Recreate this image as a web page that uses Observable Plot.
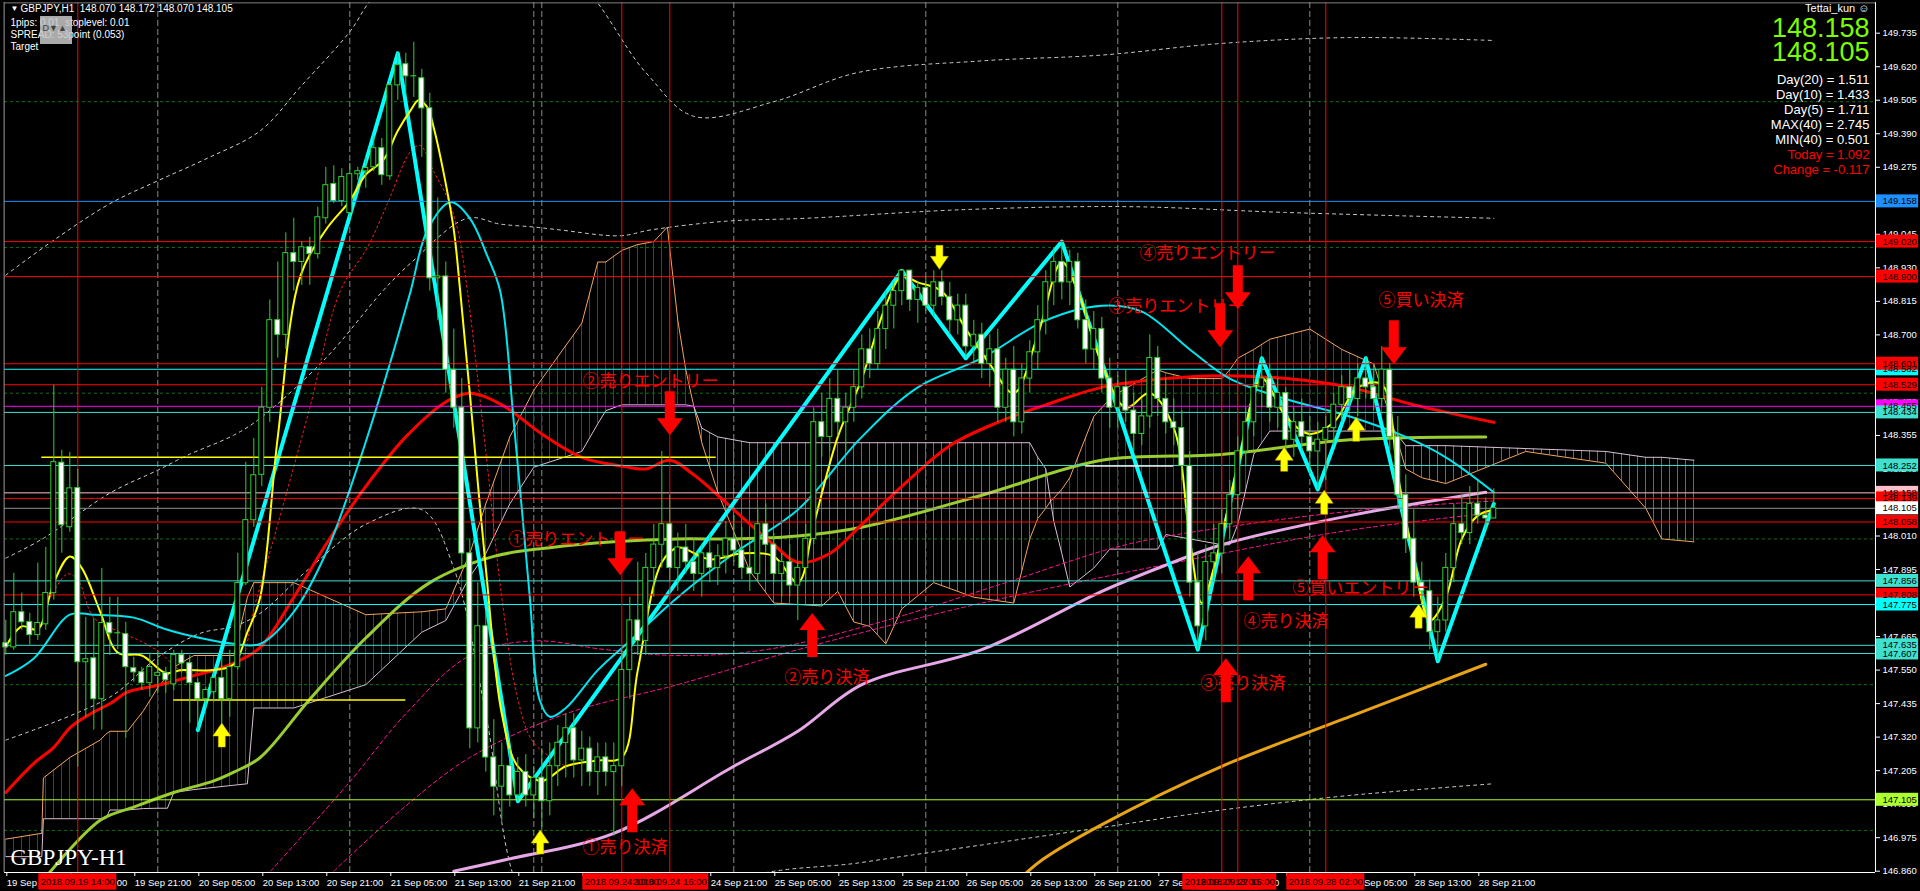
<!DOCTYPE html>
<html><head><meta charset="utf-8">
<script src="https://cdn.jsdelivr.net/npm/d3@7"></script>
<script src="https://cdn.jsdelivr.net/npm/@observablehq/plot@0.6"></script>
<style>
html,body{margin:0;padding:0;background:#000;overflow:hidden}
#chart svg{display:block}
</style></head>
<body><div id="chart"></div>
<script>
// ================= DATA =================
// hourly candles, bar 0 = 19 Sep 05:00
const opens = [147.642,147.628,147.748,147.714,147.670,147.707,147.814,148.261,148.040,148.174,
147.577,147.590,147.450,147.711,147.676,147.673,147.556,147.542,147.505,147.530,
147.540,147.501,147.601,147.573,147.505,147.450,147.474,147.522,147.450,147.560,
147.848,148.064,148.220,148.450,148.750,148.700,148.980,148.950,149.001,148.977,
149.100,149.217,149.159,149.118,149.251,149.261,149.275,149.340,149.244,149.556,
149.628,149.587,149.580,149.477,148.894,148.90,148.58,148.45,147.95,147.35,
147.70,147.25,147.15,147.22,147.12,147.20,147.12,147.18,147.10,147.22,
147.30,147.35,147.24,147.28,147.20,147.25,147.20,147.22,147.55,147.72,
147.65,147.90,147.98,148.05,147.90,147.97,147.92,147.88,147.95,147.90,
147.94,148.00,147.96,147.90,147.88,148.05,147.98,147.88,147.92,147.84,
147.90,148.00,148.40,148.35,148.48,148.40,148.45,148.52,148.65,148.60,
148.72,148.80,148.85,148.92,148.82,148.86,148.80,148.88,148.83,148.75,
148.80,148.66,148.70,148.60,148.65,148.45,148.58,148.40,148.55,148.64,
148.75,148.88,148.95,148.88,148.95,148.75,148.65,148.72,148.55,148.45,
148.52,148.44,148.36,148.42,148.62,148.48,148.40,148.38,148.25,147.85,
147.70,147.92,147.95,148.05,148.15,148.30,148.40,148.52,148.55,148.45,
148.50,148.34,148.40,148.35,148.30,148.34,148.38,148.46,148.52,148.48,
148.55,148.52,148.48,148.58,148.35,148.15,148.00,147.85,147.82,147.68,
147.72,147.90,148.05,148.02,148.12,148.08,148.070];
const highs = [147.721,147.882,147.814,147.745,147.917,147.971,148.527,148.304,148.297,148.239,
147.731,147.728,147.899,147.800,147.800,147.714,147.594,147.560,147.608,147.610,
147.560,147.618,147.618,147.600,147.520,147.490,147.540,147.601,147.618,147.951,
148.263,148.345,148.520,148.820,148.950,149.050,149.100,149.020,149.035,149.138,
149.275,149.280,149.270,149.289,149.275,149.309,149.381,149.374,149.573,149.666,
149.666,149.704,149.611,149.529,149.17,148.95,148.72,148.55,148.00,147.85,
147.75,147.38,147.30,147.28,147.25,147.26,147.22,147.28,147.30,147.36,
147.40,147.40,147.34,147.32,147.30,147.30,147.30,147.62,147.80,147.92,
147.95,148.05,148.30,148.15,148.02,148.05,148.00,147.98,148.02,147.98,
148.06,148.08,148.04,147.98,148.10,148.12,148.02,147.95,147.98,147.92,
148.05,148.45,148.50,148.55,148.58,148.50,148.58,148.70,148.72,148.78,
148.85,148.88,148.92,148.92,148.88,148.90,148.92,148.92,148.88,148.84,
148.84,148.75,148.74,148.70,148.72,148.62,148.66,148.60,148.68,148.80,
148.92,149.00,149.02,148.99,148.98,148.82,148.78,148.76,148.62,148.56,
148.58,148.50,148.48,148.70,148.66,148.55,148.48,148.44,148.30,147.95,
147.98,148.05,148.10,148.20,148.35,148.45,148.58,148.62,148.60,148.55,
148.52,148.45,148.48,148.42,148.40,148.42,148.50,148.56,148.58,148.60,
148.62,148.60,148.66,148.60,148.42,148.22,148.10,147.92,147.86,147.80,
147.95,148.12,148.15,148.18,148.20,148.14,148.172];
const lows = [147.601,147.618,147.687,147.635,147.652,147.687,147.790,147.951,148.023,147.217,
147.388,147.344,147.344,147.600,147.620,147.316,147.508,147.480,147.457,147.470,
147.470,147.480,147.540,147.368,147.344,147.420,147.440,147.354,147.388,147.550,
147.840,148.040,148.180,148.400,148.620,148.650,148.850,148.870,148.870,148.960,
149.080,149.150,149.140,149.100,149.230,149.203,149.260,149.213,149.230,149.505,
149.522,149.515,149.309,148.850,148.75,148.50,148.38,147.90,147.28,147.30,
147.20,147.05,147.03,147.08,147.10,147.08,147.04,147.00,147.05,147.15,
147.18,147.18,147.15,147.15,147.12,147.15,146.98,147.15,147.45,147.60,
147.60,147.80,147.90,147.85,147.82,147.88,147.82,147.80,147.85,147.84,
147.88,147.92,147.86,147.82,147.85,147.95,147.85,147.80,147.80,147.72,
147.85,147.98,148.28,148.30,148.35,148.30,148.40,148.48,148.55,148.58,
148.65,148.72,148.80,148.78,148.74,148.78,148.76,148.80,148.70,148.70,
148.62,148.60,148.55,148.52,148.40,148.40,148.35,148.36,148.50,148.58,
148.70,148.80,148.82,148.80,148.72,148.60,148.58,148.50,148.38,148.38,
148.40,148.30,148.32,148.38,148.42,148.36,148.32,148.20,147.80,147.62,
147.65,147.85,147.88,148.00,148.10,148.25,148.35,148.45,148.40,148.38,
148.30,148.28,148.30,148.22,148.17,148.20,148.32,148.40,148.44,148.42,
148.48,148.44,148.45,148.30,148.10,147.95,147.80,147.78,147.62,147.58,
147.68,147.85,147.98,147.98,148.05,148.03,148.070];
const closes = [147.628,147.748,147.714,147.670,147.711,147.814,148.263,148.047,148.173,147.577,
147.587,147.450,147.711,147.676,147.676,147.560,147.542,147.505,147.560,147.540,
147.515,147.601,147.573,147.505,147.450,147.481,147.522,147.450,147.560,147.848,
148.064,148.218,148.450,148.750,148.700,148.980,148.950,149.000,148.977,149.103,
149.213,149.159,149.241,149.251,149.261,149.272,149.340,149.248,149.556,149.625,
149.587,149.587,149.477,148.894,148.90,148.58,148.45,147.95,147.35,147.70,
147.25,147.15,147.22,147.12,147.20,147.12,147.18,147.10,147.22,147.30,
147.35,147.24,147.28,147.20,147.25,147.20,147.22,147.55,147.72,147.65,
147.90,147.98,148.05,147.90,147.97,147.92,147.88,147.95,147.90,147.94,
148.00,147.96,147.90,147.88,148.05,147.98,147.88,147.92,147.84,147.90,
148.00,148.40,148.35,148.48,148.40,148.45,148.52,148.65,148.60,148.72,
148.80,148.85,148.92,148.82,148.86,148.80,148.88,148.83,148.75,148.80,
148.66,148.70,148.60,148.65,148.45,148.58,148.40,148.55,148.64,148.75,
148.88,148.95,148.88,148.95,148.75,148.65,148.72,148.55,148.45,148.52,
148.44,148.36,148.42,148.62,148.48,148.40,148.38,148.25,147.85,147.70,
147.92,147.95,148.05,148.15,148.30,148.40,148.52,148.55,148.45,148.50,
148.34,148.40,148.35,148.30,148.34,148.38,148.46,148.52,148.48,148.55,
148.52,148.48,148.58,148.35,148.15,148.00,147.85,147.82,147.68,147.72,
147.90,148.05,148.02,148.12,148.08,148.07,148.105];

// time axis (bar index -> label)
const xTickBars   = [0,8,16,24,32,40,48,56,64,72,80,88,96,104,112,120,128,136,144,152,160,168,176,184];
const xTickLabels = ["19 Sep 05:00","19 Sep 13:00","19 Sep 21:00","20 Sep 05:00","20 Sep 13:00","20 Sep 21:00","21 Sep 05:00","21 Sep 13:00","21 Sep 21:00","24 Sep 05:00","24 Sep 13:00","24 Sep 21:00","25 Sep 05:00","25 Sep 13:00","25 Sep 21:00","26 Sep 05:00","26 Sep 13:00","26 Sep 21:00","27 Sep 05:00","27 Sep 13:00","27 Sep 21:00","28 Sep 05:00","28 Sep 13:00","28 Sep 21:00"];
const daySeparatorBars = [19,43,66,67,91,115,139,163];

// price axis
const yTicks = [149.735,149.620,149.505,149.390,149.275,149.160,149.045,148.930,148.815,148.700,148.585,148.470,148.355,148.240,148.125,148.010,147.895,147.780,147.665,147.550,147.435,147.320,147.205,147.090,146.975,146.860];
const gridPrices = [149.5,149.0,148.5,148.0,147.5,147.0];

// horizontal level lines (order = stacking order of their labels)
const levelPrices = [149.158,149.020,148.900,148.582,148.601,148.529,148.455,148.434,148.252,148.158,148.139,148.105,148.058,147.856,147.808,147.775,147.607,147.635,147.105];
const levelColors = ["#1e90ff","#ff0000","#ff0000","#00ffff","#ff0000","#ff0000","#ff00ff","#40e0d0","#40e0d0","#ffc0cb","#ff0000","#909090","#ff0000","#40e0d0","#ff0000","#00ffff","#40e0d0","#40e0d0","#adff2f"];
const levelBoxColors = ["#1e90ff","#ff0000","#ff0000","#00ffff","#ff0000","#ff0000","#ff00ff","#40e0d0","#40e0d0","#ffc0cb","#ff0000","#ffffff","#ff0000","#40e0d0","#ff0000","#00ffff","#40e0d0","#40e0d0","#adff2f"];
// short horizontal segments
const segPrices = [148.280,147.447,148.250];
const segFrom   = [4.5,21,135];
const segTo     = [88.8,50,146];
const segColors = ["#ffff00","#ffff00","#e8e8e8"];

// vertical time lines
const vlineBars   = [9,77,83,152,154,165];
const vlineLabels = ["2018.09.19 14:00","2018.09.24 10:00","2018.09.24 16:00","2018.09.27 13:00","2018.09.27 15:00","2018.09.28 02:00"];

// ichimoku cloud (span A / span B)
const cloudBars = [0,4.5,4.7,8,11.8,12.5,13,15.2,17.2,19,20.2,21,23.5,28.5,30.2,31,36,45,52,55,58,60,63,66,72,74,75,77,79,81,82.7,84,85,86,87,89,93,96,102,104,106,108,110,112,116,121,126,128,129,130,130.6,131,132,133,136,138,139,144,145,148,152,153,154,156,158,163,167,171,173.6,175,177,180,190,200,205,207,211];
const spanA = [146.97,146.99,147.18,147.25,147.31,147.33,147.34,147.34,147.41,147.49,147.53,147.56,147.60,147.60,147.80,147.85,147.85,147.74,147.75,147.76,147.95,148.12,148.35,148.51,148.74,148.95,148.95,148.99,149.01,149.02,149.07,148.75,148.58,148.455,148.33,148.16,147.89,147.78,147.77,147.82,147.715,147.70,147.64,147.76,147.85,147.80,147.78,148.00,148.07,148.105,148.13,148.14,148.17,148.21,148.42,148.48,148.50,148.58,148.57,148.55,148.55,148.58,148.62,148.65,148.685,148.72,148.65,148.60,148.37,148.24,148.21,148.19,148.30,148.26,148.105,148.00,147.99];
const spanB = [146.91,146.91,147.04,147.04,147.04,147.04,147.07,147.07,147.075,147.076,147.076,147.13,147.14,147.155,147.16,147.42,147.42,147.50,147.68,147.72,147.87,147.95,148.12,148.246,148.30,148.395,148.44,148.46,148.46,148.46,148.46,148.46,148.46,148.455,148.38,148.35,148.33,148.33,148.33,148.33,148.33,148.33,148.33,148.33,148.33,148.33,148.33,148.33,148.28,148.24,148.13,148.06,147.95,147.835,147.90,147.965,147.965,147.965,148.015,148.00,147.98,147.98,148.05,148.29,148.37,148.37,148.37,148.37,148.37,148.32,148.32,148.32,148.31,148.30,148.28,148.28,148.27];
const cloudLastBar = 211;

// moving averages & other indicator lines (sampled bar index / value)
const yellowBars = [0,2,4,6,8,9.5,11.8,14,17,20,22,26,28.5,30.2,31.8,34,36.8,40,43,45,47.2,49,50.6,51.6,52.7,53.5,54.7,56,56.8,58,60,62,64,67,70,74,77,79,82,84,88,92,96,99,101,104,107,110,112,114,117,120,123,126,129,132,134,137,140,143,146,148,149.5,151,154,157,160,163,166,169,172,174,176,178,180,182,184,186];
const yellowVals = [147.63,147.70,147.69,147.85,147.94,147.90,147.75,147.61,147.60,147.54,147.55,147.55,147.57,147.68,147.80,148.35,148.90,149.06,149.16,149.25,149.30,149.40,149.47,149.505,149.48,149.41,149.26,149.06,148.85,148.50,147.90,147.40,147.22,147.17,147.22,147.24,147.25,147.55,147.92,147.97,147.93,147.95,147.94,147.85,148.05,148.35,148.55,148.80,148.90,148.88,148.85,148.72,148.60,148.50,148.70,148.95,148.85,148.60,148.45,148.50,148.38,148.00,147.78,147.90,148.25,148.55,148.42,148.36,148.40,148.52,148.53,148.22,147.93,147.72,147.80,148.00,148.08,148.10];
const redMaBars = [0,3.5,6,8.1,10.6,13.1,15.2,19,22.7,26,28.5,31.8,36,40,45,50,55,58,62,67,72,77,80,83,86,91,96,99,103,107,112,118,124,130,137,145,152,160,168,176,186];
const redMaVals = [147.13,147.23,147.285,147.354,147.40,147.436,147.474,147.498,147.525,147.55,147.574,147.628,147.80,147.98,148.18,148.35,148.47,148.50,148.46,148.36,148.28,148.25,148.24,148.27,148.22,148.10,147.98,147.92,147.95,148.05,148.18,148.32,148.40,148.46,148.52,148.55,148.56,148.55,148.52,148.46,148.40];
const cyanBars = [0,3.5,8,11,16,20,24.3,28.5,31.8,36,40,44,48,50.6,52.7,55.6,58,60.2,61.8,63.5,65.5,66.7,68,70,74,78,84,91,99,107,114,122,130,137,142,148,153,160,168,175,180,186];
const cyanVals = [147.53,147.59,147.74,147.74,147.73,147.69,147.66,147.64,147.64,147.75,147.95,148.25,148.60,148.85,149.06,149.155,149.10,148.97,148.85,148.40,147.80,147.45,147.39,147.42,147.55,147.65,147.80,147.95,148.10,148.35,148.52,148.62,148.75,148.80,148.78,148.65,148.55,148.48,148.42,148.35,148.28,148.16];
const zigBars = [24,49,64,112,120,132,149,157,164,170,179,186];
const zigVals = [147.344,149.666,147.10,148.92,148.62,149.02,147.62,148.62,148.17,148.62,147.58,148.12];
const greenMaBars = [4.7,11.8,16,21,26,28.5,31.8,38,45,53,61,68,76,84,91,99,107,122,137,152,168,185];
const greenMaVals = [146.83,147.035,147.08,147.13,147.17,147.20,147.25,147.45,147.66,147.85,147.94,147.97,147.99,148.00,148.00,148.01,148.04,148.15,148.27,148.29,148.34,148.35];
const plumBars = [56,62.6,76,91,99,107,122,137,145,152,168,185];
const plumVals = [146.86,146.90,146.99,147.22,147.34,147.50,147.62,147.82,147.91,147.98,148.08,148.16];
const orangeBars = [127,129.6,137,152,168,185];
const orangeVals = [146.84,146.90,147.02,147.22,147.39,147.57];
const redDotBars = [5.6,7.7,9,11,14.3,16.8,19.3,21.8,24.3,26.8,29.3,31,34,38,41.8,45.2,47.7,50.6,51.8,53.5,55.2,56.5,57.7,60,62,64,66,70];
const redDotVals = [147.80,147.88,147.86,147.73,147.68,147.65,147.61,147.55,147.54,147.55,147.58,147.76,148.05,148.45,148.85,149.00,149.15,149.33,149.35,149.26,149.17,149.06,148.85,148.30,147.80,147.45,147.30,147.22];
const bandUpBars = [0,6,13,19.1,25.2,31.8,36.8,43,46,55,70,80,86,96,106.5,122,137,152,168,186];
const bandUpVals = [148.905,149.025,149.15,149.23,149.306,149.40,149.55,149.74,149.86,150.05,149.95,149.60,149.45,149.50,149.60,149.64,149.66,149.70,149.72,149.71];
const bandMidBars = [0,4.7,13,19,22.7,28.5,31.8,40,47.2,50.6,57.7,61.8,66,69.3,76.8,80.6,90,100,120,140,160,186];
const bandMidVals = [147.934,148.002,148.157,148.236,148.287,148.356,148.414,148.62,148.853,148.946,149.10,149.08,149.07,149.06,149.04,149.06,149.09,149.10,149.13,149.14,149.12,149.10];
const bandLowBars = [0,13,19,24.3,28.5,31.8,38,45,52,56,60,64,70,80,91,107,122,137,152,168,186];
const bandLowVals = [147.31,147.457,147.594,147.676,147.70,147.745,147.90,148.05,148.10,147.90,147.40,146.80,146.55,146.55,146.82,146.89,146.95,147.01,147.07,147.12,147.16];
const magABars = [33.1,43.1,50,58,66,75,84,95,110,125,140,155,170,186];
const magAVals = [146.86,147.17,147.40,147.60,147.65,147.62,147.60,147.62,147.72,147.85,147.98,148.05,148.10,148.13];
const magBBars = [41,49.4,58,70,84,99,122,152,168,186];
const magBVals = [146.86,147.07,147.25,147.40,147.50,147.62,147.78,147.95,148.03,148.09];

// signal arrows
const redDownBars = [83,76.8,154,151.8,173.5];
const redDownVals = [148.431,147.951,148.863,148.733,148.675];
const redUpBars = [100.8,78.3,152.5,155.3,164.6];
const redUpVals = [147.670,147.069,147.515,147.865,147.937];
const yelUpBars = [27,66.8,159.8,168.8,164.8,176.6];
const yelUpVals = [147.327,146.96,148.273,148.376,148.126,147.735];
const yelDownBars = [116.7];
const yelDownVals = [148.966];

// annotations
const noteTexts = ["①売りエントリー","②売りエントリー","③売りエントリー","④売りエントリー","⑤買い決済","①売り決済","②売り決済","③売り決済","④売り決済","⑤買いエントリー"];
const noteBars  = [62.8,72.1,137.8,141.7,171.6,72.1,97.3,149.3,154.7,160.8];
const noteVals  = [147.999,148.541,148.798,148.980,148.819,146.942,147.525,147.505,147.718,147.831];

// header / info texts
const headerTitle = "GBPJPY,H1  148.070 148.172 148.070 148.105";
const headerLines = ["1pips: 0.01  stoplevel: 0.01","SPREAD: 53point (0.053)","Target"];
const infoUser = "Tettai_kun ☺";
const infoBig = ["148.158","148.105"];
const infoLines = ["Day(20) = 1.511","Day(10) = 1.433","Day(5) = 1.711","MAX(40) = 2.745","MIN(40) = 0.501","Today = 1.092","Change = -0.117"];
const infoColors = ["#ffffff","#ffffff","#ffffff","#ffffff","#ffffff","#ff0000","#ff0000"];
const symbolLabel = "GBPJPY-H1";

// ================= BUILD =================
const candles = opens.map((o,i)=>({i, o, h:highs[i], l:lows[i], c:closes[i]}));
const zip = (xs, ys) => xs.map((x,k)=>({x, y:ys[k]}));
const levels = levelPrices.map((p,k)=>({p, color:levelColors[k], box:levelBoxColors[k]}));
const segs = segPrices.map((p,k)=>({p, x1:segFrom[k], x2:segTo[k], color:segColors[k]}));
const cloud = cloudBars.map((x,k)=>({x, a:spanA[k], b:spanB[k]}));
// the cloud is drawn MT4-style as one vertical hatch line per bar between the two span lines
const spanAAt = d3.scaleLinear().domain(cloudBars).range(spanA);
const spanBAt = d3.scaleLinear().domain(cloudBars).range(spanB);
const hatch = d3.range(0, cloudLastBar + 1).map(i => ({i, a: spanAAt(i), b: spanBAt(i)}));

const XL = -0.16, XR = 233.71;      // chart area, in bar units
const BOX1 = 233.84, BOX2 = 239.1;  // price-label boxes
const PPX = 1/291.5;                // price per pixel
const BPX = 1/8;                    // bars per pixel
const YBOT = 146.8555, YTOP = 149.84;

function arrowSymbol(dir, shaftW, headW, len, headLen){
  return {draw(ctx){
    const s = dir, h = len/2;
    ctx.moveTo(-shaftW/2, -s*h);
    ctx.lineTo(shaftW/2, -s*h);
    ctx.lineTo(shaftW/2, s*(h-headLen));
    ctx.lineTo(headW/2, s*(h-headLen));
    ctx.lineTo(0, s*h);
    ctx.lineTo(-headW/2, s*(h-headLen));
    ctx.lineTo(-shaftW/2, s*(h-headLen));
    ctx.closePath();
  }};
}
const bigDown = arrowSymbol(1, 10, 26, 44, 17);
const bigUp = arrowSymbol(-1, 10, 26, 44, 17);
const smallUp = arrowSymbol(-1, 7, 18, 24, 13);
const smallDown = arrowSymbol(1, 7, 18, 24, 13);

const line = (xs, ys, o) => Plot.line(zip(xs, ys), Object.assign({x:"x", y:"y", curve:"catmull-rom", clip:true}, o));

const FONT = "Liberation Sans, Arial, sans-serif";
const TL = {frameAnchor:"top-left", lineAnchor:"top", textAnchor:"start"};
const TR = {frameAnchor:"top-right", textAnchor:"end"};

const marks = [
  // grid & day separators
  Plot.ruleY(gridPrices, {x1:XL, x2:XR, stroke:"#127012", strokeDasharray:"3,3"}),
  Plot.ruleX(daySeparatorBars, {stroke:"#8a8a8a", strokeDasharray:"6,3", y1:YBOT, y2:YTOP}),
  // ichimoku cloud hatch + spans
  Plot.ruleX(hatch.filter(d => d.a > d.b), {x:"i", y1:"a", y2:"b", stroke:"#3232b4", strokeWidth:1, dx:-0.3, clip:true}),
  Plot.ruleX(hatch.filter(d => d.b > d.a), {x:"i", y1:"a", y2:"b", stroke:"#b04e3c", strokeWidth:1, dx:-0.3, clip:true}),
  Plot.line(cloud, {x:"x", y:"a", stroke:"#f4a460", strokeWidth:1, clip:true}),
  Plot.line(cloud, {x:"x", y:"b", stroke:"#d8bfd8", strokeWidth:1, clip:true}),
  // envelopes / bands
  line(bandUpBars, bandUpVals, {stroke:"#d0d0d0", strokeWidth:1, strokeDasharray:"3,4"}),
  line(bandMidBars, bandMidVals, {stroke:"#d0d0d0", strokeWidth:1, strokeDasharray:"3,4"}),
  line(bandLowBars, bandLowVals, {stroke:"#d0d0d0", strokeWidth:1, strokeDasharray:"3,4"}),
  line(magABars, magAVals, {stroke:"#ff1493", strokeWidth:1, strokeDasharray:"4,3"}),
  line(magBBars, magBVals, {stroke:"#ff1493", strokeWidth:1, strokeDasharray:"4,3"}),
  line(redDotBars, redDotVals, {stroke:"#ff2020", strokeWidth:1, strokeDasharray:"2,3"}),
  // moving averages
  line(orangeBars, orangeVals, {stroke:"#e8a317", strokeWidth:3}),
  line(plumBars, plumVals, {stroke:"#e6a8e6", strokeWidth:3}),
  line(greenMaBars, greenMaVals, {stroke:"#9acd32", strokeWidth:3}),
  line(redMaBars, redMaVals, {stroke:"#ff0000", strokeWidth:3}),
  line(cyanBars, cyanVals, {stroke:"#00e5f0", strokeWidth:2}),
  Plot.line(zip(zigBars, zigVals), {x:"x", y:"y", stroke:"#00ffff", strokeWidth:4, clip:true}),
  line(yellowBars, yellowVals, {stroke:"#ffff00", strokeWidth:2}),
  // horizontal levels & segments
  Plot.ruleY(levels, {y:"p", x1:XL, x2:XR, stroke:"color", strokeWidth:1}),
  Plot.ruleY(segs, {y:"p", x1:"x1", x2:"x2", stroke:"color", strokeWidth:1.5}),
  // vertical red lines
  Plot.ruleX(vlineBars, {stroke:"#ff0000", y1:YBOT, y2:YTOP}),
  // candles
  Plot.ruleX(candles, {x:"i", y1:"l", y2:"h", stroke:"#32cd32"}),
  Plot.rect(candles, {x1:d=>d.i-0.31, x2:d=>d.i+0.31, y1:d=>Math.min(d.o,d.c), y2:d=>Math.max(d.o,d.c)+0.0005,
    fill:d=>d.c<d.o?"#ffffff":"#000000", stroke:"#32cd32", strokeWidth:1}),
  // annotations & arrows
  Plot.text(noteTexts, {x:(d,k)=>noteBars[k], y:(d,k)=>noteVals[k], text:d=>d, textAnchor:"start", fill:"#ff0000",
    fontSize:17, fontFamily:"Noto Sans CJK JP"}),
  Plot.dot(zip(redDownBars, redDownVals), {x:"x", y:"y", symbol:bigDown, fill:"#ff0000", stroke:null, r:1}),
  Plot.dot(zip(redUpBars, redUpVals), {x:"x", y:"y", symbol:bigUp, fill:"#ff0000", stroke:null, r:1}),
  Plot.dot(zip(yelUpBars, yelUpVals), {x:"x", y:"y", symbol:smallUp, fill:"#ffff00", stroke:"#c8a000", strokeWidth:0.5, r:1}),
  Plot.dot(zip(yelDownBars, yelDownVals), {x:"x", y:"y", symbol:smallDown, fill:"#ffff00", stroke:"#c8a000", strokeWidth:0.5, r:1}),
  // chart border
  Plot.ruleY([YBOT], {x1:XL, x2:XR, stroke:"#ffffff"}),
  Plot.ruleY([149.839], {x1:XL, x2:XR, stroke:"#808080"}),
  Plot.ruleX([XR], {y1:YBOT, y2:YTOP, stroke:"#ffffff"}),
  Plot.ruleX([XL-0.05], {y1:YBOT, y2:YTOP, stroke:"#9a9a9a"}),
  // axes
  Plot.axisY(yTicks, {anchor:"right", tickSize:4, tickPadding:3, color:"#ffffff", tickFormat:d=>d.toFixed(3), fontSize:9.5}),
  Plot.axisX(xTickBars, {anchor:"bottom", tickSize:4, tickPadding:3, color:"#ffffff", textAnchor:"start", dx:1,
    tickFormat:d=>xTickLabels[xTickBars.indexOf(d)], fontSize:9.5}),
  // level price boxes
  Plot.rect(levels, {x1:BOX1, x2:BOX2, y1:d=>d.p-6.5*PPX, y2:d=>d.p+6.5*PPX, fill:"box"}),
  Plot.text(levels, {x:BOX1, y:"p", text:d=>d.p.toFixed(3), textAnchor:"start", dx:6, fill:"#000", fontSize:9.5}),
  // vertical-line time boxes
  Plot.rect(vlineBars, {x1:d=>d-39*BPX, x2:d=>d+39*BPX, y1:146.860-19*PPX, y2:146.860-2.5*PPX, fill:"#ff0000"}),
  Plot.text(vlineBars, {x:d=>d, y:146.860-10.5*PPX, text:(d,k)=>vlineLabels[k], fill:"#000", fontSize:9.5}),
  // header (top-left)
  Plot.text(["▼"], {...TL, dx:6, dy:3, fill:"#fff", fontSize:8}),
  Plot.text([headerTitle], {...TL, dx:16, dy:2, fill:"#fff", fontSize:10}),
  ...headerLines.map((t,k)=>Plot.text([t], {...TL, dx:6, dy:16+12*k, fill:"#fff", fontSize:10})),
  Plot.rect([0], {x1:(40-5.3)*BPX, x2:(72-5.3)*BPX, y1:149.735-(44-32.7)*PPX, y2:149.735-(16-32.7)*PPX, fill:"#c8c8c8", fillOpacity:0.85}),
  Plot.text(["D▼▲"], {...TL, dx:38, dy:22, fill:"#404040", fontSize:9}),
  Plot.text([symbolLabel], {frameAnchor:"bottom-left", lineAnchor:"bottom", textAnchor:"start", dx:6, dy:-8, fill:"#fff", fontSize:23, fontFamily:"Liberation Serif, serif"}),
  // info panel (top-right)
  Plot.text([infoUser], {...TR, lineAnchor:"top", dx:-6, dy:2, fill:"#fff", fontSize:11}),
  Plot.text([infoBig[0]], {...TR, lineAnchor:"bottom", dx:-6, dy:34, fill:"#7cfc00", fontSize:27}),
  Plot.text([infoBig[1]], {...TR, lineAnchor:"bottom", dx:-6, dy:58, fill:"#7cfc00", fontSize:27}),
  ...infoLines.map((t,k)=>Plot.text([t], {...TR, lineAnchor:"bottom", dx:-6, dy:81+15*k, fill:infoColors[k], fontSize:13}))
];

const chart = Plot.plot({
  width: 1920, height: 891,
  marginLeft: 4, marginRight: 45, marginTop: 2, marginBottom: 19,
  style: {background:"#000", color:"#fff", fontFamily: FONT, fontSize:"9.5px"},
  x: {type:"linear", domain:[0,1], range:[5.3,13.3], axis:null},
  y: {type:"linear", domain:[146.860,149.735], range:[870.7,32.7], axis:null},
  color: {type:"identity"},
  marks
});
document.getElementById("chart").appendChild(chart);
</script></body></html>
